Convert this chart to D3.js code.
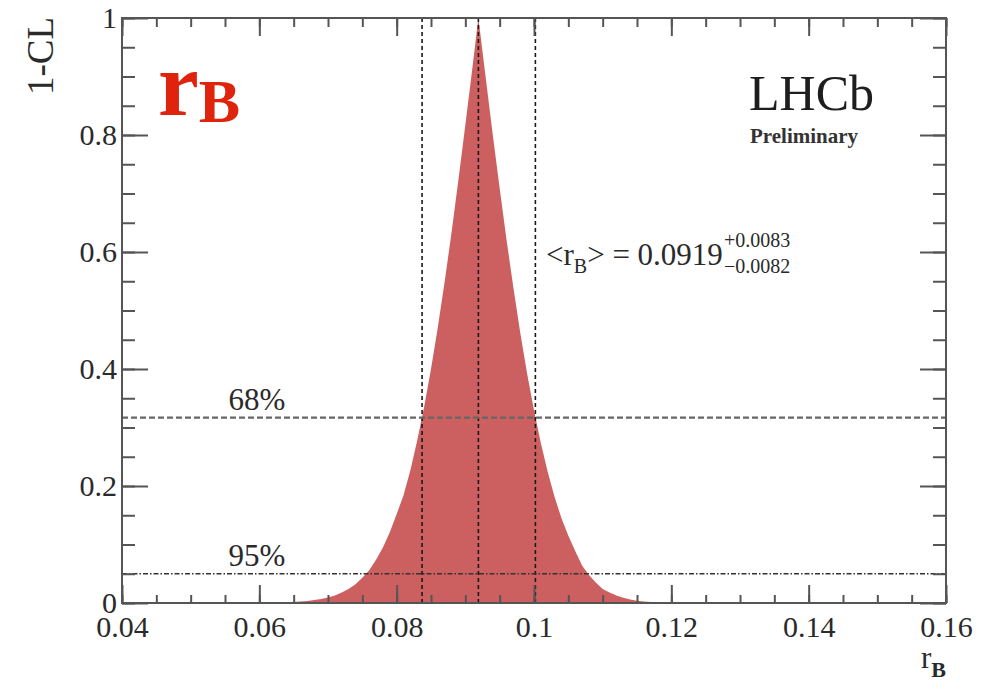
<!DOCTYPE html>
<html>
<head>
<meta charset="utf-8">
<script src="https://cdn.jsdelivr.net/npm/d3@7"></script>
<style>
  html, body { margin: 0; padding: 0; background: #fff; }
  svg { display: block; }
  text { font-family: "Liberation Serif", "DejaVu Serif", serif; }
</style>
</head>
<body>
<svg id="chart" width="998" height="694"></svg>
<script>
// 1-CL profile of r_B
const rB = [0.040, 0.050, 0.060, 0.062, 0.064, 0.066, 0.067, 0.068, 0.069, 0.070,
            0.071, 0.072, 0.073, 0.074, 0.075, 0.076, 0.077, 0.078, 0.079, 0.080,
            0.081, 0.082, 0.083, 0.084, 0.085, 0.086, 0.087, 0.088, 0.089, 0.090,
            0.091, 0.0919, 0.093, 0.094, 0.095, 0.096, 0.097, 0.098, 0.099, 0.100,
            0.101, 0.102, 0.103, 0.104, 0.105, 0.106, 0.107, 0.108, 0.109, 0.110,
            0.111, 0.112, 0.113, 0.114, 0.115, 0.116, 0.118, 0.120, 0.125, 0.130,
            0.160];
const oneMinusCL = [0, 0, 0.0002, 0.0005, 0.0012, 0.0025, 0.0035, 0.005, 0.007, 0.0095,
            0.013, 0.018, 0.024, 0.032, 0.043, 0.056, 0.074, 0.095, 0.121, 0.152,
            0.184, 0.227, 0.278, 0.335, 0.400, 0.472, 0.550, 0.634, 0.724, 0.817,
            0.912, 1.0, 0.895, 0.800, 0.709, 0.621, 0.539, 0.462, 0.392, 0.329,
            0.273, 0.224, 0.181, 0.145, 0.115, 0.089, 0.064, 0.048, 0.035, 0.024,
            0.018, 0.013, 0.009, 0.006, 0.004, 0.0025, 0.001, 0.0004, 0.0001, 0,
            0];

// central value and 68% interval
const rBCentral = 0.0919;
const rBErrUp = 0.0083;
const rBErrDown = 0.0082;
const intervalEdges = [rBCentral - rBErrDown, rBCentral, rBCentral + rBErrUp];

// confidence-level reference lines
const clLabels = ["68%", "95%"];
const clValues = [0.317, 0.05];

// axis ticks
const xTicks = [0.04, 0.06, 0.08, 0.10, 0.12, 0.14, 0.16];
const xTickLabels = ["0.04", "0.06", "0.08", "0.1", "0.12", "0.14", "0.16"];
const xMinorTicks = d3.range(0, 25).map(i => +(0.04 + i * 0.005).toFixed(3));
const yTicks = [0, 0.2, 0.4, 0.6, 0.8, 1];
const yTickLabels = ["0", "0.2", "0.4", "0.6", "0.8", "1"];
const yMinorTicks = d3.range(0, 21).map(i => +(i * 0.05).toFixed(2));

const svg = d3.select("#chart");
const frame = { left: 122, right: 946, top: 18, bottom: 603 };

const x = d3.scaleLinear().domain([0.04, 0.16]).range([frame.left, frame.right]);
const y = d3.scaleLinear().domain([0, 1]).range([frame.bottom, frame.top]);

const points = rB.map((v, i) => ({ x: v, y: oneMinusCL[i] }));

// filled profile
svg.append("path")
  .datum(points)
  .attr("fill", "#cc5f60")
  .attr("d", d3.area().x(d => x(d.x)).y0(y(0)).y1(d => y(d.y)));

// interval lines
svg.selectAll("line.interval")
  .data(intervalEdges)
  .join("line")
  .attr("class", "interval")
  .attr("x1", d => x(d)).attr("x2", d => x(d))
  .attr("y1", y(0)).attr("y2", y(1))
  .attr("stroke", "#1a1a1a")
  .attr("stroke-width", 1.6)
  .attr("stroke-dasharray", "4,3");

// 68% line (dashed) and 95% line (dash-dot)
const clDash = ["6,3", "5,2,1.5,2"];
const clColor = ["#666", "#333"];
const clWidth = [2.2, 1.5];
svg.selectAll("line.cl")
  .data(clValues)
  .join("line")
  .attr("class", "cl")
  .attr("x1", x(0.04)).attr("x2", x(0.16))
  .attr("y1", d => y(d)).attr("y2", d => y(d))
  .attr("stroke", (d, i) => clColor[i])
  .attr("stroke-width", (d, i) => clWidth[i])
  .attr("stroke-dasharray", (d, i) => clDash[i]);

svg.selectAll("text.cl")
  .data(clValues)
  .join("text")
  .attr("class", "cl")
  .attr("x", x(0.0555))
  .attr("y", d => y(d) - 8)
  .attr("font-size", 31)
  .attr("fill", "#2a2a2a")
  .text((d, i) => clLabels[i]);

// axes with inward ticks on all four sides
const axisColor = "#555";
function styleAxis(g) {
  g.select(".domain").remove();
  g.selectAll(".tick line").attr("stroke", axisColor).attr("stroke-width", 2);
  g.selectAll(".tick text")
    .attr("font-family", "Liberation Serif, serif")
    .attr("font-size", 30)
    .attr("fill", "#2a2a2a");
}

svg.append("g").attr("transform", `translate(0,${frame.bottom})`)
  .call(d3.axisBottom(x).tickValues(xMinorTicks).tickSize(-8).tickFormat(""))
  .call(styleAxis);
svg.append("g").attr("transform", `translate(0,${frame.bottom})`)
  .call(d3.axisBottom(x).tickValues(xTicks).tickSize(-18).tickPadding(13)
    .tickFormat((d, i) => xTickLabels[i]))
  .call(styleAxis);
svg.append("g").attr("transform", `translate(0,${frame.top})`)
  .call(d3.axisTop(x).tickValues(xMinorTicks).tickSize(-9).tickFormat(""))
  .call(styleAxis);
svg.append("g").attr("transform", `translate(0,${frame.top})`)
  .call(d3.axisTop(x).tickValues(xTicks).tickSize(-18).tickFormat(""))
  .call(styleAxis);

svg.append("g").attr("transform", `translate(${frame.left},0)`)
  .call(d3.axisLeft(y).tickValues(yMinorTicks).tickSize(-13).tickFormat(""))
  .call(styleAxis);
svg.append("g").attr("transform", `translate(${frame.left},0)`)
  .call(d3.axisLeft(y).tickValues(yTicks).tickSize(-26).tickPadding(5)
    .tickFormat((d, i) => yTickLabels[i]))
  .call(styleAxis);
svg.append("g").attr("transform", `translate(${frame.right},0)`)
  .call(d3.axisRight(y).tickValues(yMinorTicks).tickSize(-13).tickFormat(""))
  .call(styleAxis);
svg.append("g").attr("transform", `translate(${frame.right},0)`)
  .call(d3.axisRight(y).tickValues(yTicks).tickSize(-26).tickFormat(""))
  .call(styleAxis);

// frame
svg.append("rect")
  .attr("x", frame.left).attr("y", frame.top)
  .attr("width", frame.right - frame.left).attr("height", frame.bottom - frame.top)
  .attr("fill", "none").attr("stroke", axisColor).attr("stroke-width", 2);

// axis titles
svg.append("text")
  .attr("transform", `translate(53,${frame.top - 1}) rotate(-90)`)
  .attr("text-anchor", "end")
  .attr("font-size", 37)
  .attr("fill", "#2a2a2a")
  .text("1-CL");

const xTitle = svg.append("text")
  .attr("x", frame.right)
  .attr("y", 668)
  .attr("text-anchor", "end")
  .attr("fill", "#2a2a2a");
xTitle.append("tspan").attr("font-size", 31).text("r");
xTitle.append("tspan").attr("font-size", 22).attr("font-weight", "bold").attr("dy", 9).text("B");

// parameter name
const name = svg.append("text")
  .attr("x", 158)
  .attr("y", 115)
  .attr("fill", "#e0230c")
  .attr("font-weight", "bold");
name.append("tspan").attr("font-size", 92).text("r");
name.append("tspan").attr("font-size", 62).attr("dy", 7).text("B");

// experiment label
svg.append("text")
  .attr("x", 749).attr("y", 110)
  .attr("font-size", 50)
  .attr("fill", "#1e1e1e")
  .text("LHCb");
svg.append("text")
  .attr("x", 750).attr("y", 143)
  .attr("font-size", 21)
  .attr("font-weight", "bold")
  .attr("fill", "#333")
  .text("Preliminary");

// result annotation
const ann = svg.append("text")
  .attr("x", 546).attr("y", 265)
  .attr("font-size", 31)
  .attr("fill", "#2a2a2a");
ann.append("tspan").text("<r");
ann.append("tspan").attr("font-size", 20).attr("dy", 8).text("B");
ann.append("tspan").attr("dy", -8).text(">");
ann.append("tspan").text(" = " + rBCentral.toFixed(4));
const annEnd = 546 + ann.node().getComputedTextLength();
svg.append("text")
  .attr("x", annEnd + 1).attr("y", 247)
  .attr("font-size", 20).attr("fill", "#2a2a2a")
  .text("+" + rBErrUp.toFixed(4));
svg.append("text")
  .attr("x", annEnd + 1).attr("y", 273)
  .attr("font-size", 20).attr("fill", "#2a2a2a")
  .text("\u2212" + rBErrDown.toFixed(4));
</script>
</body>
</html>
